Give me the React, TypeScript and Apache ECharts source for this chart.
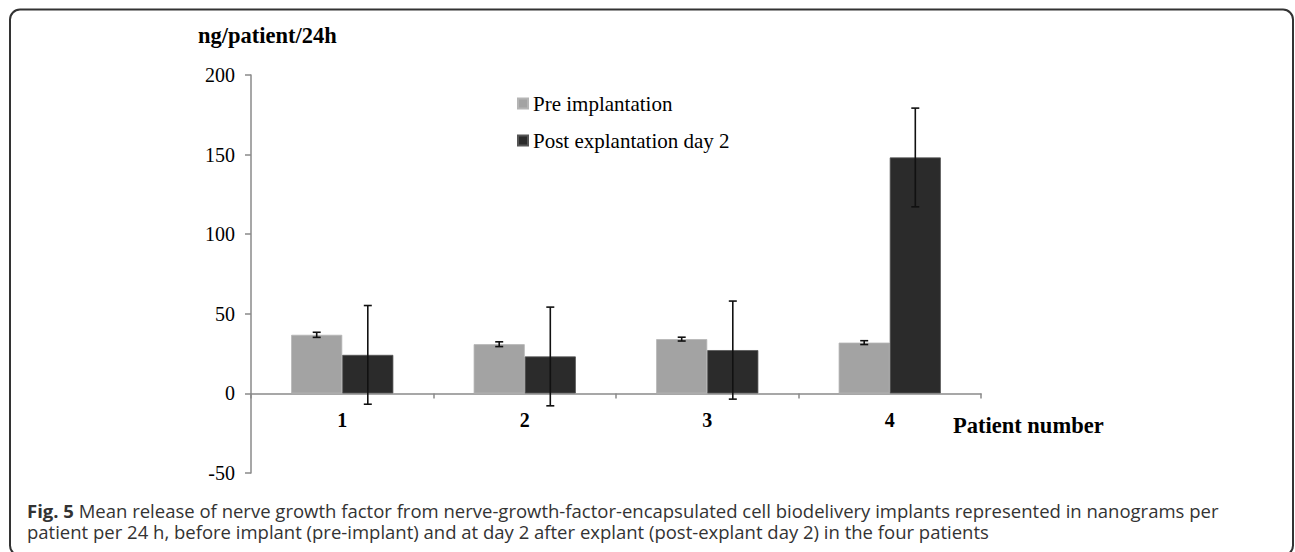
import React, { useEffect, useRef } from "react";
import * as echarts from "echarts";

const categories = ["1", "2", "3", "4"];
const preValues = [36.8, 30.9, 34.1, 31.9];
const preErrors = [1.6, 1.5, 1.2, 1.2];
const postValues = [24.2, 23.2, 27.2, 148.2];
const postErrors = [31, 31, 30.8, 31];
const seriesNames = ["Pre implantation", "Post explantation day 2"];
const yTicks = { min: -50, max: 200, interval: 50 };
const captionBold = "Fig. 5";
const captionLine1 =
  " Mean release of nerve growth factor from nerve-growth-factor-encapsulated cell biodelivery implants represented in nanograms per";
const captionLine2 =
  "patient per 24 h, before implant (pre-implant) and at day 2 after explant (post-explant day 2) in the four patients";

const SERIF = "'Liberation Serif', 'Times New Roman', serif";
const SANS = "'Open Sans', 'Noto Sans', sans-serif";
const CAT_GAP = 0.44;

const GRID_TOP = 75;
const GRID_BOTTOM = 79;
const CHART_H = 552;

function errorRenderer(side: number) {
  return (params: any, api: any) => {
    const ci = api.value(0);
    const v = api.value(1);
    const e = api.value(2);
    const hi = api.coord([ci, v + e]);
    const lo = api.coord([ci, v - e]);
    const band = api.size([1, 0])[0];
    const bw = (band * (1 - CAT_GAP)) / 2;
    const x = hi[0] + (side * bw) / 2;
    const cap = 4;
    const style = { stroke: "#111", lineWidth: 1.6 };
    return {
      type: "group",
      children: [
        { type: "line", shape: { x1: x, y1: hi[1], x2: x, y2: lo[1] }, style },
        { type: "line", shape: { x1: x - cap, y1: hi[1], x2: x + cap, y2: hi[1] }, style },
        { type: "line", shape: { x1: x - cap, y1: lo[1], x2: x + cap, y2: lo[1] }, style },
      ],
    };
  };
}

export default function App() {
  const ref = useRef<HTMLDivElement>(null);
  useEffect(() => {
    if (!ref.current) return;
    const chart = echarts.init(ref.current, undefined, { renderer: "svg" });
    const axisColor = "#8a8a8a";
    const gridH = CHART_H - GRID_TOP - GRID_BOTTOM;
    // distance from grid bottom (y = min) up to the y = 0 line
    const zeroOffset = (gridH * (0 - yTicks.min)) / (yTicks.max - yTicks.min);
    chart.setOption({
      animation: false,
      backgroundColor: "#ffffff",
      grid: { left: 251, right: 314, top: GRID_TOP, bottom: GRID_BOTTOM, containLabel: false },
      legend: {
        orient: "vertical",
        left: 517,
        top: 93,
        padding: 0,
        itemWidth: 10,
        itemHeight: 10,
        itemGap: 16,
        icon: "rect",
        data: seriesNames,
        textStyle: { fontFamily: SERIF, fontSize: 21, color: "#000" },
      },
      xAxis: {
        type: "category",
        data: categories,
        offset: -zeroOffset,
        axisLine: { onZero: false, lineStyle: { color: axisColor, width: 1.5 } },
        axisTick: { show: true, length: 5, lineStyle: { color: axisColor, width: 1.5 } },
        axisLabel: { fontFamily: SERIF, fontSize: 20, fontWeight: "bold", color: "#000", margin: 17 },
        splitLine: { show: false },
      },
      yAxis: {
        type: "value",
        min: yTicks.min,
        max: yTicks.max,
        interval: yTicks.interval,
        axisLine: { show: true, lineStyle: { color: axisColor, width: 1.5 } },
        axisTick: { show: true, length: 6, lineStyle: { color: axisColor, width: 1.5 } },
        axisLabel: { fontFamily: SERIF, fontSize: 20, color: "#000", margin: 16 },
        splitLine: { show: false },
      },
      series: [
        {
          name: seriesNames[0],
          type: "bar",
          data: preValues,
          barGap: "0%",
          barCategoryGap: CAT_GAP * 100 + "%",
          itemStyle: { color: "#a3a3a3", borderColor: "#b5b5b5", borderWidth: 0.8 },
        },
        {
          name: seriesNames[1],
          type: "bar",
          data: postValues,
          barGap: "0%",
          barCategoryGap: CAT_GAP * 100 + "%",
          itemStyle: { color: "#2b2b2b", borderColor: "#555", borderWidth: 0.8 },
        },
        {
          type: "custom",
          name: "preErr",
          z: 10,
          renderItem: errorRenderer(-1),
          data: preValues.map((v, i) => [i, v, preErrors[i]]),
          encode: { x: 0, y: 1 },
        },
        {
          type: "custom",
          name: "postErr",
          z: 10,
          renderItem: errorRenderer(1),
          data: postValues.map((v, i) => [i, v, postErrors[i]]),
          encode: { x: 0, y: 1 },
        },
      ],
      graphic: [
        {
          type: "rect",
          shape: { x: 10, y: 9.5, width: 1283, height: 546, r: 10 },
          style: { fill: "none", stroke: "#333", lineWidth: 2 },
          silent: true,
        },
        {
          type: "text",
          x: 198,
          y: 35,
          style: {
            text: "ng/patient/24h",
            font: `bold 22.5px ${SERIF}`,
            fill: "#000",
            verticalAlign: "middle",
          },
        },
        {
          type: "text",
          x: 953,
          y: 425,
          style: {
            text: "Patient number",
            font: `bold 22.5px ${SERIF}`,
            fill: "#000",
            verticalAlign: "middle",
          },
        },
        {
          type: "text",
          x: 27,
          y: 499.5,
          style: {
            text: `{b|${captionBold}}{n|${captionLine1}}\n{n|${captionLine2}}`,
            font: `18.5px ${SANS}`,
            fill: "#333",
            verticalAlign: "top",
            rich: {
              b: { fontWeight: "bold", fontFamily: SANS, fontSize: 18.5, lineHeight: 21, fill: "#333" },
              n: { fontFamily: SANS, fontSize: 18.5, lineHeight: 21, fill: "#333" },
            },
          },
        },
      ],
    });
    return () => chart.dispose();
  }, []);
  return (
    <div
      ref={ref}
      style={{ position: "absolute", left: 0, top: 0, width: 1295, height: 552, background: "#fff" }}
    />
  );
}
